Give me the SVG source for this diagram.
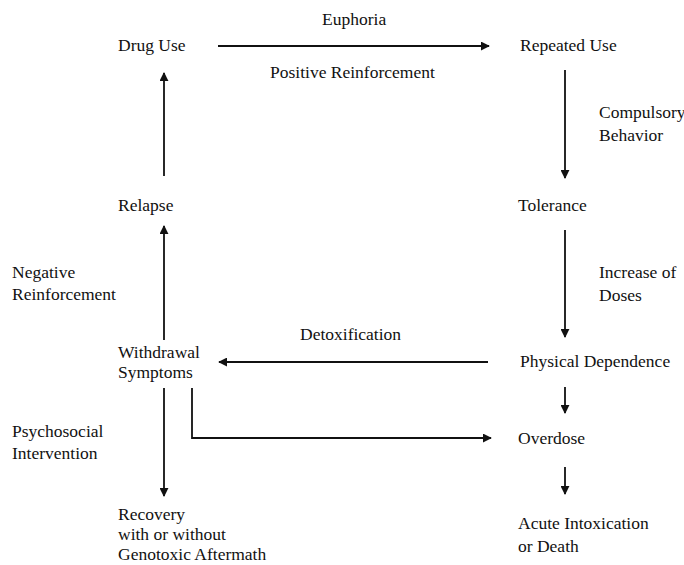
<svg xmlns="http://www.w3.org/2000/svg" width="684" height="565" viewBox="0 0 684 565">
<style>
text{font-family:"Liberation Serif","Times New Roman",serif;font-size:17.5px;fill:#111}
.c{stroke:#111;stroke-width:1.8;fill:none}
</style>
<defs>
<marker id="ah" viewBox="0 0 10 10" refX="9" refY="5" markerWidth="5" markerHeight="5" orient="auto" markerUnits="strokeWidth">
<path d="M0,0 L10,5 L0,10 z" fill="#111"/>
</marker>
</defs>
<rect width="684" height="565" fill="#fff"/>
<g id="connectors">
<line class="c" x1="218" y1="46" x2="489" y2="46" marker-end="url(#ah)"/>
<line class="c" x1="565" y1="70" x2="565" y2="178" marker-end="url(#ah)"/>
<line class="c" x1="565" y1="230" x2="565" y2="337" marker-end="url(#ah)"/>
<line class="c" x1="565" y1="387" x2="565" y2="413" marker-end="url(#ah)"/>
<line class="c" x1="565" y1="467" x2="565" y2="494" marker-end="url(#ah)"/>
<line class="c" x1="488" y1="362" x2="219" y2="362" marker-end="url(#ah)"/>
<line class="c" x1="164" y1="176" x2="164" y2="73" marker-end="url(#ah)"/>
<line class="c" x1="164" y1="340" x2="164" y2="226" marker-end="url(#ah)"/>
<line class="c" x1="164" y1="388" x2="164" y2="496" marker-end="url(#ah)"/>
<polyline class="c" points="192,388 192,438 491,438" marker-end="url(#ah)"/>
</g>
<g id="euphoria"><text x="322" y="25">Euphoria</text></g>
<g id="positive"><text x="270" y="78">Positive Reinforcement</text></g>
<g id="drug-use"><text x="118" y="51">Drug Use</text></g>
<g id="repeated-use"><text x="520" y="51">Repeated Use</text></g>
<g id="compulsory"><text x="599" y="118">Compulsory</text><text x="599" y="141">Behavior</text></g>
<g id="tolerance"><text x="518" y="211">Tolerance</text></g>
<g id="increase"><text x="599" y="278">Increase of</text><text x="599" y="301">Doses</text></g>
<g id="physical-dependence"><text x="520" y="367">Physical Dependence</text></g>
<g id="detox"><text x="300" y="340">Detoxification</text></g>
<g id="overdose"><text x="518" y="444">Overdose</text></g>
<g id="acute"><text x="518" y="529">Acute Intoxication</text><text x="518" y="552">or Death</text></g>
<g id="relapse"><text x="118" y="211">Relapse</text></g>
<g id="negative"><text x="12" y="278">Negative</text><text x="12" y="300">Reinforcement</text></g>
<g id="withdrawal"><text x="118" y="358">Withdrawal</text><text x="118" y="378">Symptoms</text></g>
<g id="psychosocial"><text x="12" y="437">Psychosocial</text><text x="12" y="459">Intervention</text></g>
<g id="recovery"><text x="118" y="520">Recovery</text><text x="118" y="540">with or without</text><text x="118" y="560">Genotoxic Aftermath</text></g>
</svg>
